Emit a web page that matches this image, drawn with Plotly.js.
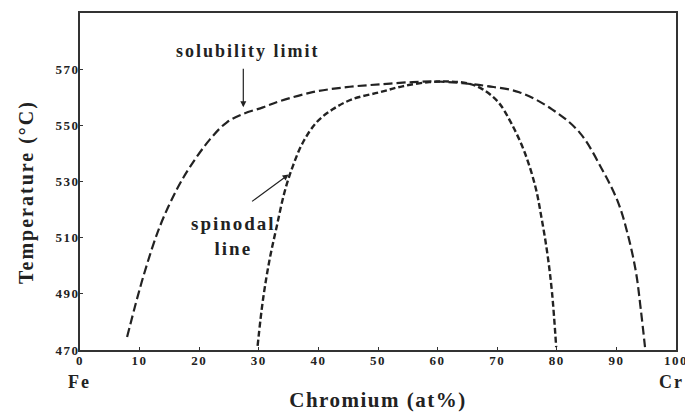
<!DOCTYPE html>
<html>
<head>
<meta charset="utf-8">
<script src="https://cdn.plot.ly/plotly-3.0.1.min.js"></script>
<style>
html,body{margin:0;padding:0;background:#fff;}
#chart{width:685px;height:414px;}
#chart .xtick text, #chart .ytick text{letter-spacing:1.5px;}
#chart text.xtitle{letter-spacing:1.5px;}
#chart g.annotation text{letter-spacing:2px;}
</style>
</head>
<body>
<div id="chart"></div>
<script>
// Solubility limit (outer miscibility gap)
const solubilityX = [7.9, 10.6, 13.4, 16.2, 18.4, 21.8, 24.6, 27.3, 30.7, 33.5, 39, 44.7, 50.3, 55.8, 60, 64.2, 68.2, 73.7, 79.2, 83.8, 87.6, 90.3, 92.0, 93.3, 94.1, 94.8];
const solubilityT = [474.6, 496, 514, 527, 535, 545, 551, 554, 556.4, 558.6, 561.8, 563.6, 564.6, 565.4, 565.6, 565, 564, 561.8, 555.7, 547.5, 534.3, 522.5, 510.4, 497.5, 484.3, 471];
// Spinodal line (inner curve)
const spinodalX = [29.8, 30.7, 31.8, 33.0, 34.3, 35.7, 37.4, 39.7, 42.4, 45.7, 50.3, 54.1, 58.6, 62, 65, 67.5, 70.2, 72.4, 74.6, 76.4, 77.4, 78.4, 79.2, 79.9];
const spinodalT = [471.5, 487.9, 502.1, 513.9, 526.1, 535.4, 543.9, 551.1, 555.7, 559.3, 561.8, 563.9, 565.4, 565.6, 565, 562.9, 558.2, 550.6, 540.4, 528.2, 517.5, 504.6, 490.4, 471];
// Tick labels
const xTickVals = [0, 10, 20, 30, 40, 50, 60, 70, 80, 90, 100];
const xTickText = ["0", "10", "20", "30", "40", "50", "60", "70", "80", "90", "100"];
const yTickVals = [470, 490, 510, 530, 550, 570];
const yTickText = ["470", "490", "510", "530", "550", "570"];

const serif = "Liberation Serif, Times New Roman, serif";
const ink = "#222";

const traces = [
  {x: solubilityX, y: solubilityT, mode: "lines", type: "scatter", name: "solubility limit",
   line: {color: ink, width: 2.2, dash: "9px,4px", shape: "spline", smoothing: 1}},
  {x: spinodalX, y: spinodalT, mode: "lines", type: "scatter", name: "spinodal line",
   line: {color: ink, width: 2.4, dash: "6px,3px", shape: "spline", smoothing: 1}}
];

const layout = {
  width: 685, height: 414,
  margin: {l: 80, r: 9, t: 13, b: 64},
  paper_bgcolor: "#fff", plot_bgcolor: "#fff",
  showlegend: false,
  font: {family: serif, color: ink},
  xaxis: {
    range: [0, 100], tickvals: xTickVals, ticktext: xTickText,
    showgrid: false, zeroline: false, showline: true, mirror: true,
    linecolor: "#333", linewidth: 2, ticks: "inside", ticklen: 3, tickcolor: "#333",
    ticklabelstandoff: -3, ticklabeloverflow: "allow",
    tickfont: {family: serif, size: 13, color: ink, weight: "bold"},
    title: {text: "<b>Chromium (at%)</b>", font: {family: serif, size: 21, color: ink}, standoff: 26}
  },
  yaxis: {
    range: [470, 590], tickvals: yTickVals, ticktext: yTickText,
    showgrid: false, zeroline: false, showline: true, mirror: true,
    linecolor: "#333", linewidth: 2, ticks: "inside", ticklen: 3, tickcolor: "#333",
    ticklabelstandoff: -4, ticklabeloverflow: "allow",
    tickfont: {family: serif, size: 13, color: ink, weight: "bold"}
  },
  annotations: [
    {x: 0, y: 0.469, xref: "paper", yref: "paper", xanchor: "center", yanchor: "middle", xshift: -53, textangle: -90,
     text: "<b>Temperature (°C)</b>", showarrow: false, font: {family: serif, size: 20, color: ink}},
    {x: 28.2, y: 576.3, xref: "x", yref: "y", text: "<b>solubility limit</b>", showarrow: false,
     font: {family: serif, size: 18, color: ink}},
    {x: 27.4, y: 556.4, xref: "x", yref: "y", text: "", showarrow: true, arrowhead: 2, arrowsize: 1,
     arrowwidth: 1.2, arrowcolor: ink, ax: 0, ay: -40, standoff: 0},
    {x: 25.8, y: 510.5, xref: "x", yref: "y", text: "<b>spinodal<br>line</b>", showarrow: false,
     font: {family: serif, size: 19, color: ink}},
    {x: 35, y: 532.5, xref: "x", yref: "y", text: "", showarrow: true, arrowhead: 2, arrowsize: 1,
     arrowwidth: 1.2, arrowcolor: ink, ax: -38, ay: 28, standoff: 0},
    {x: 0, y: 0, xref: "paper", yref: "paper", xanchor: "center", yanchor: "middle", yshift: -32, xshift: -1,
     text: "<b>Fe</b>", showarrow: false, font: {family: serif, size: 18, color: ink}},
    {x: 1, y: 0, xref: "paper", yref: "paper", xanchor: "right", yanchor: "middle", yshift: -32, xshift: 8,
     text: "<b>Cr</b>", showarrow: false, font: {family: serif, size: 18, color: ink}}
  ]
};

Plotly.newPlot("chart", traces, layout, {displayModeBar: false, staticPlot: true});
</script>
</body>
</html>
